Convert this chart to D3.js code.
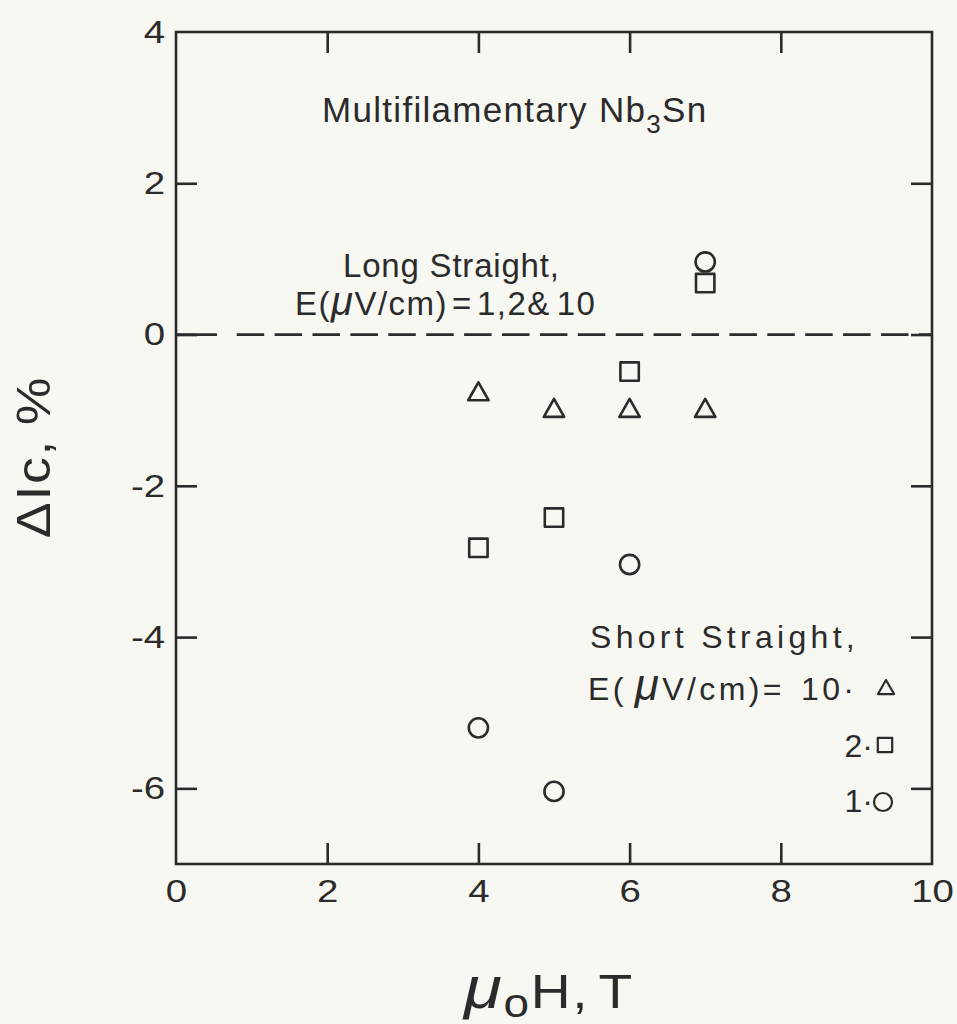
<!DOCTYPE html>
<html>
<head>
<meta charset="utf-8">
<script src="https://cdn.jsdelivr.net/npm/d3@7"></script>
<style>
  html, body { margin: 0; padding: 0; background: #f8f8f3; }
  svg { display: block; }
  text { font-family: "Liberation Sans", Arial, Helvetica, sans-serif; fill: #2b2b2b; }
</style>
</head>
<body>
<script>
// ---- data ----
const xTickLabels = [0, 2, 4, 6, 8, 10];
const yTickLabels = [4, 2, 0, -2, -4, -6];
const xTickMarks = [2, 4, 6, 8];
const yTickMarks = [2, 0, -2, -4, -6];
const fieldT = [4, 5, 6, 7];                      // mu0 H, T
const shortE10 = [-0.75, -0.97, -0.97, -0.97];    // triangles
const shortE2  = [-2.82, -2.42, -0.49, 0.68];     // squares
const shortE1  = [-5.20, -6.04, -3.04, 0.96];     // circles
const referenceLine = 0;

const W = 957, H = 1024;
const ink = "#2b2b2b";
const svg = d3.select("body").append("svg").attr("width", W).attr("height", H);
svg.append("rect").attr("width", W).attr("height", H).attr("fill", "#f8f8f3");

const x = d3.scaleLinear().domain([0, 10]).range([176, 932]);
const y = d3.scaleLinear().domain([-7, 4]).range([864, 32]);

// frame
svg.append("rect")
  .attr("x", x(0)).attr("y", y(4))
  .attr("width", x(10) - x(0)).attr("height", y(-7) - y(4))
  .attr("fill", "none").attr("stroke", ink).attr("stroke-width", 2.6);

// inward tick marks on four sides
function styleTicks(g) {
  g.select(".domain").remove();
  g.selectAll(".tick line").attr("stroke", ink).attr("stroke-width", 2.6);
}
svg.append("g").attr("transform", `translate(0,${y(-7)})`)
  .call(d3.axisBottom(x).tickValues(xTickMarks).tickSizeInner(-21).tickSizeOuter(0).tickFormat(""))
  .call(styleTicks);
svg.append("g").attr("transform", `translate(0,${y(4)})`)
  .call(d3.axisTop(x).tickValues(xTickMarks).tickSizeInner(-21).tickSizeOuter(0).tickFormat(""))
  .call(styleTicks);
svg.append("g").attr("transform", `translate(${x(0)},0)`)
  .call(d3.axisLeft(y).tickValues(yTickMarks).tickSizeInner(-21).tickSizeOuter(0).tickFormat(""))
  .call(styleTicks);
svg.append("g").attr("transform", `translate(${x(10)},0)`)
  .call(d3.axisRight(y).tickValues(yTickMarks).tickSizeInner(-21).tickSizeOuter(0).tickFormat(""))
  .call(styleTicks);

// tick labels (slightly wide lettering as in the original)
const labelSize = 32, stretch = 1.2;
const gxl = svg.append("g").attr("transform", `translate(0,${y(-7)})`)
  .call(d3.axisBottom(x).tickValues(xTickLabels).tickSize(0).tickPadding(15).tickFormat(d3.format("d")));
gxl.select(".domain").remove();
gxl.selectAll("text").attr("font-size", labelSize).attr("font-family", null).style("fill", ink)
  .attr("transform", `scale(${stretch},1)`);

const gyl = svg.append("g").attr("transform", `translate(${x(0)},0)`)
  .call(d3.axisLeft(y).tickValues(yTickLabels).tickSize(0).tickPadding(11).tickFormat(d => d < 0 ? "-" + Math.abs(d) : String(d)));
gyl.select(".domain").remove();
gyl.selectAll("text").attr("font-size", labelSize).attr("font-family", null).style("fill", ink)
  .attr("x", -11 / stretch).attr("transform", `scale(${stretch},1)`);

// dashed reference line at 0
const dashes = [41, 19.7];
for (let i = 0; i < 30; i++) dashes.push(27.5, 10.4);
svg.append("line")
  .attr("x1", x(0)).attr("x2", x(10))
  .attr("y1", y(referenceLine)).attr("y2", y(referenceLine))
  .attr("stroke", ink).attr("stroke-width", 2.8)
  .attr("stroke-dasharray", dashes.join(","));

// markers
const tri = (s) => `M0,${-0.88*s}L${s},${0.88*s}L${-s},${0.88*s}Z`;
const sq = (s) => `M${-s},${-s}H${s}V${s}H${-s}Z`;
const markerStyle = (sel) => sel.attr("fill", "none").attr("stroke", ink)
  .attr("stroke-width", 2.6).attr("stroke-linejoin", "round");

svg.append("g").selectAll("path").data(fieldT.map((f, i) => [f, shortE10[i]])).join("path")
  .attr("transform", d => `translate(${x(d[0])},${y(d[1])})`)
  .attr("d", tri(10.2)).call(markerStyle);
svg.append("g").selectAll("path").data(fieldT.map((f, i) => [f, shortE2[i]])).join("path")
  .attr("transform", d => `translate(${x(d[0])},${y(d[1])})`)
  .attr("d", sq(9.2)).call(markerStyle);
svg.append("g").selectAll("circle").data(fieldT.map((f, i) => [f, shortE1[i]])).join("circle")
  .attr("cx", d => x(d[0])).attr("cy", d => y(d[1])).attr("r", 9.6).call(markerStyle);

// annotations
const t1 = svg.append("text").attr("x", 322).attr("y", 122).attr("font-size", 35).attr("letter-spacing", 1.3);
t1.append("tspan").text("Multifilamentary Nb");
t1.append("tspan").attr("font-size", 26).attr("dy", 11).text("3");
t1.append("tspan").attr("dy", -11).text("Sn");

svg.append("text").attr("x", 343).attr("y", 277).attr("font-size", 33).attr("letter-spacing", 0.8)
  .text("Long Straight,");
const t2 = svg.append("text").attr("x", 295).attr("y", 315).attr("font-size", 33).attr("letter-spacing", 1.5);
t2.append("tspan").text("E(");
t2.append("tspan").attr("font-style", "italic").attr("font-size", 40).text("μ");
t2.append("tspan").text("V/cm)");
t2.append("tspan").attr("dx", 4).text("=");
t2.append("tspan").attr("dx", 4).text("1,2&");
t2.append("tspan").attr("dx", 6).text("10");

// legend
svg.append("text").attr("x", 590).attr("y", 648).attr("font-size", 32).attr("letter-spacing", 4.3)
  .text("Short Straight,");
const lg = svg.append("text").attr("x", 588).attr("y", 700).attr("font-size", 32).attr("letter-spacing", 3.4);
lg.append("tspan").text("E(");
lg.append("tspan").attr("dx", 8).attr("font-style", "italic").attr("font-size", 44).text("μ");
lg.append("tspan").text("V/cm)=");
lg.append("tspan").attr("dx", 16).text("10·");
svg.append("text").attr("x", 873).attr("y", 757).attr("font-size", 32).attr("text-anchor", "end").text("2·");
svg.append("text").attr("x", 873).attr("y", 812).attr("font-size", 32).attr("text-anchor", "end").text("1·");
const legStyle = (sel) => sel.attr("fill", "none").attr("stroke", ink).attr("stroke-width", 2.2).attr("stroke-linejoin", "round");
svg.append("path").attr("transform", "translate(886,687)").attr("d", tri(8)).call(legStyle);
svg.append("path").attr("transform", "translate(885,745)").attr("d", sq(7.2)).call(legStyle);
svg.append("circle").attr("cx", 883).attr("cy", 802).attr("r", 9).call(legStyle);

// axis titles
const xt = svg.append("text").attr("transform", "translate(549,1008) scale(1.15,1)")
  .attr("font-size", 48).attr("text-anchor", "middle").attr("letter-spacing", 1.5);
xt.append("tspan").attr("font-style", "italic").attr("font-size", 60).text("μ");
xt.append("tspan").attr("font-size", 40).attr("dy", 9).text("o");
xt.append("tspan").attr("dy", -9).text("H,");
xt.append("tspan").attr("dx", 8).text("T");

const yt = svg.append("text").attr("transform", "translate(50,457) rotate(-90) scale(1.12,1)")
  .attr("font-size", 48).attr("text-anchor", "middle").attr("letter-spacing", 1.5);
yt.append("tspan").text("ΔIc,");
yt.append("tspan").attr("dx", 12).text("%");
</script>
</body>
</html>
